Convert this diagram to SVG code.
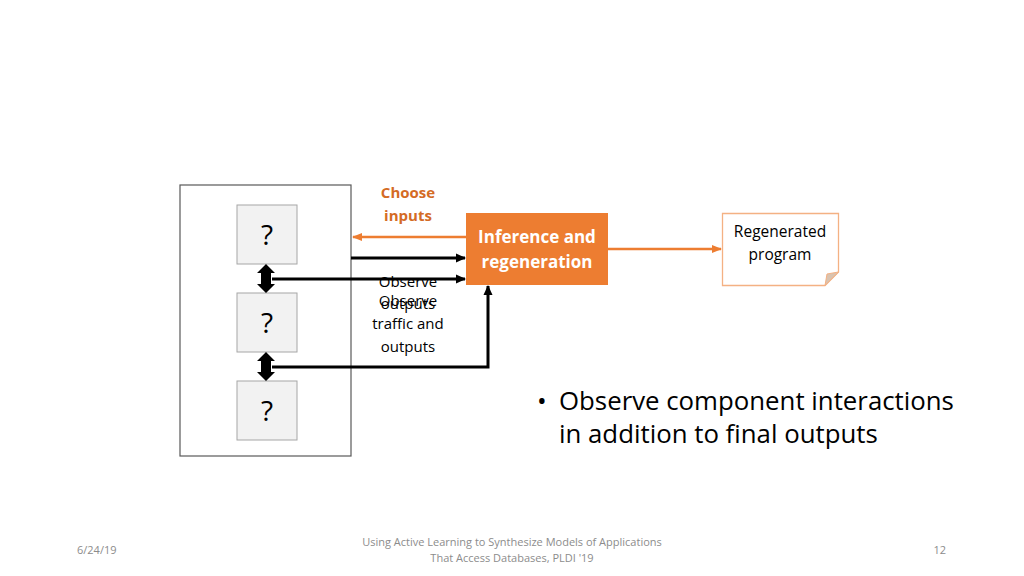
<svg xmlns="http://www.w3.org/2000/svg" width="1024" height="576" viewBox="0 0 1024 576">
<defs>
<style>
text{font-family:"Open Sans","Liberation Sans",sans-serif}
.q{font-size:28px;text-anchor:middle;fill:#000}
.qbox{fill:#f2f2f2;stroke:#a6a6a6;stroke-width:1}
.lbl{font-size:15px;text-anchor:middle;fill:#000}
.or{font-size:15px;text-anchor:middle;fill:#d46b25;font-weight:bold}
.foot{font-size:11px;fill:#8c8c8c}
.blk{stroke:#000;stroke-width:3;fill:none}
.org{stroke:#ed7d31;stroke-width:2.5;fill:none}
</style>
<marker id="ab" markerWidth="10" markerHeight="10" refX="9" refY="5" orient="auto" markerUnits="userSpaceOnUse" viewBox="0 0 10 10"><path d="M0,0.5 L10,5 L0,9.5 z" fill="#000"/></marker>
<marker id="ao" markerWidth="10" markerHeight="10" refX="9" refY="5" orient="auto" markerUnits="userSpaceOnUse" viewBox="0 0 10 10"><path d="M0,1 L10,5 L0,9 z" fill="#ed7d31"/></marker>
</defs>
<rect width="1024" height="576" fill="#fff"/>
<g id="outer"><rect x="180" y="185" width="171" height="271" fill="none" stroke="#595959" stroke-width="1.2"/></g>
<g id="q1"><rect class="qbox" x="237" y="205" width="60" height="59"/><text class="q" x="267" y="245">?</text></g>
<g id="q2"><rect class="qbox" x="237" y="293" width="60" height="59"/><text class="q" x="267" y="333">?</text></g>
<g id="q3"><rect class="qbox" x="237" y="381" width="60" height="59"/><text class="q" x="267" y="421">?</text></g>
<g id="infer"><rect x="466" y="213" width="142" height="72" fill="#ed7d31"/>
<text x="537" y="243" font-size="17" font-weight="bold" fill="#fff" text-anchor="middle">Inference and</text>
<text x="537" y="268" font-size="17" font-weight="bold" fill="#fff" text-anchor="middle">regeneration</text></g>
<g id="regen"><path d="M722.5,213.5 H838.5 V272 L825,285.5 H722.5 Z" fill="#fff" stroke="#f4b183" stroke-width="1.3"/>
<path d="M825,285.5 L827,274 L838.5,272 Z" fill="#d9c3b0" stroke="#f4b183" stroke-width="1"/>
<text x="780" y="237" font-size="15.5" text-anchor="middle">Regenerated</text>
<text x="780" y="260" font-size="15.5" text-anchor="middle">program</text></g>
<g id="connectors">
<line class="org" x1="466" y1="237" x2="353" y2="237" marker-end="url(#ao)"/>
<line class="org" x1="608" y1="249" x2="721" y2="249" marker-end="url(#ao)"/>
<line class="blk" x1="351" y1="258" x2="465" y2="258" marker-end="url(#ab)"/>
<line class="blk" x1="272" y1="279" x2="465" y2="279" marker-end="url(#ab)"/>
<polyline class="blk" points="272,367 488,367 488,286" marker-end="url(#ab)"/>
<path d="M266,264 L275,273 L271,273 L271,284 L275,284 L266,293 L257,284 L261,284 L261,273 L257,273 Z" fill="#000"/>
<path d="M266,352 L275,361 L271,361 L271,372 L275,372 L266,381 L257,372 L261,372 L261,361 L257,361 Z" fill="#000"/>
</g>
<g id="labels">
<text class="or" x="408" y="198">Choose</text>
<text class="or" x="408" y="221">inputs</text>
<text class="lbl" x="408" y="287">Observe</text>
<text class="lbl" x="408" y="309">outputs</text>
<text class="lbl" x="408" y="306">Observe</text>
<text class="lbl" x="408" y="329">traffic and</text>
<text class="lbl" x="408" y="352">outputs</text>
</g>
<g id="bullet">
<text x="537" y="410" font-size="25.8" fill="#000">•</text>
<text x="559" y="410" font-size="25.8" fill="#000">Observe component interactions</text>
<text x="559" y="443" font-size="25.8" fill="#000">in addition to final outputs</text>
</g>
<g id="footer">
<text class="foot" x="77" y="554">6/24/19</text>
<text class="foot" x="512" y="546" text-anchor="middle">Using Active Learning to Synthesize Models of Applications</text>
<text class="foot" x="512" y="562" text-anchor="middle">That Access Databases, PLDI '19</text>
<text class="foot" x="946" y="554" text-anchor="end">12</text>
</g>
</svg>
